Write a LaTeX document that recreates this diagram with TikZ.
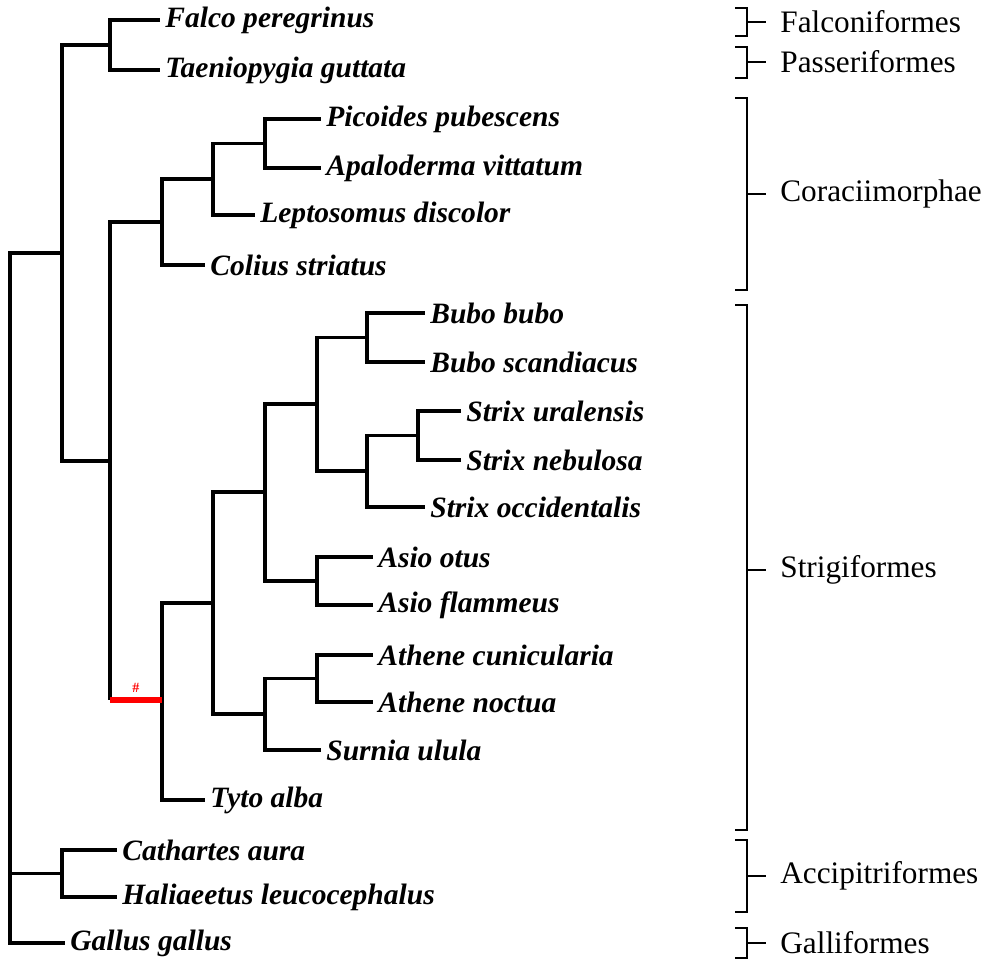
\documentclass[tikz,border=0pt]{standalone}
\usepackage{fontspec}
\setmainfont{Liberation Serif}
\begin{document}
\begin{tikzpicture}[x=0.02cm,y=-0.02cm,
  sp/.style={anchor=west,inner sep=0pt,font=\fontsize{16.8}{18}\selectfont\bfseries\itshape},
  ord/.style={anchor=west,inner sep=0pt,font=\fontsize{17.8}{19}\selectfont},
  br/.style={line width=1.1pt},
  treeline/.style={line width=2.2pt}]
\useasboundingbox (0,0) rectangle (1000,969);
% leaves
\node[sp] (l1) at (165,20) {Falco peregrinus};
\node[sp] (l2) at (165,70) {Taeniopygia guttata};
\node[sp] (l3) at (326,119) {Picoides pubescens};
\node[sp] (l4) at (326,168) {Apaloderma vittatum};
\node[sp] (l5) at (260,215) {Leptosomus discolor};
\node[sp] (l6) at (210,265) {Colius striatus};
\node[sp] (l7) at (430,313) {Bubo bubo};
\node[sp] (l8) at (430,362) {Bubo scandiacus};
\node[sp] (l9) at (466,411) {Strix uralensis};
\node[sp] (l10) at (466,460) {Strix nebulosa};
\node[sp] (l11) at (430,507) {Strix occidentalis};
\node[sp] (l12) at (378,557) {Asio otus};
\node[sp] (l13) at (378,605) {Asio flammeus};
\node[sp] (l14) at (378,655) {Athene cunicularia};
\node[sp] (l15) at (378,702) {Athene noctua};
\node[sp] (l16) at (326,750) {Surnia ulula};
\node[sp] (l17) at (210,800) {Tyto alba};
\node[sp] (l18) at (122,850) {Cathartes aura};
\node[sp] (l19) at (122,897) {Haliaeetus leucocephalus};
\node[sp] (l20) at (70,943) {Gallus gallus};
% internal nodes
\coordinate (nA) at (110,45);
\coordinate (nPA) at (265,143.5);
\coordinate (nLP) at (213,179);
\coordinate (nC) at (162,222);
\coordinate (nBB) at (367,337.5);
\coordinate (nSS) at (418,435.5);
\coordinate (nSt) at (367,471);
\coordinate (nBS) at (317,404);
\coordinate (nAs) at (317,581);
\coordinate (nU) at (265,492);
\coordinate (nAt) at (317,678.5);
\coordinate (nL) at (265,714);
\coordinate (nO) at (213,603);
\coordinate (nS) at (162,700);
\coordinate (nCS) at (110,461);
\coordinate (nR1) at (62,253);
\coordinate (nCH) at (62,873.5);
\coordinate (nR) at (10,253);
\draw[treeline] ([xshift=-3]l1.west) -| (nA) |- ([xshift=-3]l2.west);
\draw[treeline] ([xshift=-3]l3.west) -| (nPA) |- ([xshift=-3]l4.west);
\draw[treeline] (nPA) -| (nLP) |- ([xshift=-3]l5.west);
\draw[treeline] (nLP) -| (nC) |- ([xshift=-3]l6.west);
\draw[treeline] ([xshift=-3]l7.west) -| (nBB) |- ([xshift=-3]l8.west);
\draw[treeline] ([xshift=-3]l9.west) -| (nSS) |- ([xshift=-3]l10.west);
\draw[treeline] (nSS) -| (nSt) |- ([xshift=-3]l11.west);
\draw[treeline] (nBB) -| (nBS) |- (nSt);
\draw[treeline] ([xshift=-3]l12.west) -| (nAs) |- ([xshift=-3]l13.west);
\draw[treeline] (nBS) -| (nU) |- (nAs);
\draw[treeline] ([xshift=-3]l14.west) -| (nAt) |- ([xshift=-3]l15.west);
\draw[treeline] (nAt) -| (nL) |- ([xshift=-3]l16.west);
\draw[treeline] (nU) -| (nO) |- (nL);
\draw[treeline] (nO) -| (nS) |- ([xshift=-3]l17.west);
\draw[treeline] (nC) -| (nCS) -- (110,700);
\draw[treeline] (nA) -| (nR1) |- (nCS);
\draw[treeline] ([xshift=-3]l18.west) -| (nCH) |- ([xshift=-3]l19.west);
\draw[treeline] (nR1) -| (nR) |- ([xshift=-3]l20.west);
\draw[treeline] (nR) |- (nCH);
\draw[red,line width=3pt] (110,700) -- (nS);
\node[red,font=\footnotesize\bfseries] (hs) at (136,688) {\#};
% brackets
\foreach \t/\b/\m/\n/\name in {8/36/22/f/Falconiformes,47/78/62/p/Passeriformes,98/290/194/c/Coraciimorphae,305/830/570/s/Strigiformes,840/912/876/a/Accipitriformes,928/958/943/g/Galliformes}{
  \draw[br] (735,\t) -- (747,\t) -- (747,\b) -- (735,\b);
  \coordinate (bm\n) at (747,\m);
  \node[ord] (o\n) at (780,\m) {\name};
  \draw[br] (bm\n) -- ([xshift=-8]o\n.west);
}
\end{tikzpicture}
\end{document}
